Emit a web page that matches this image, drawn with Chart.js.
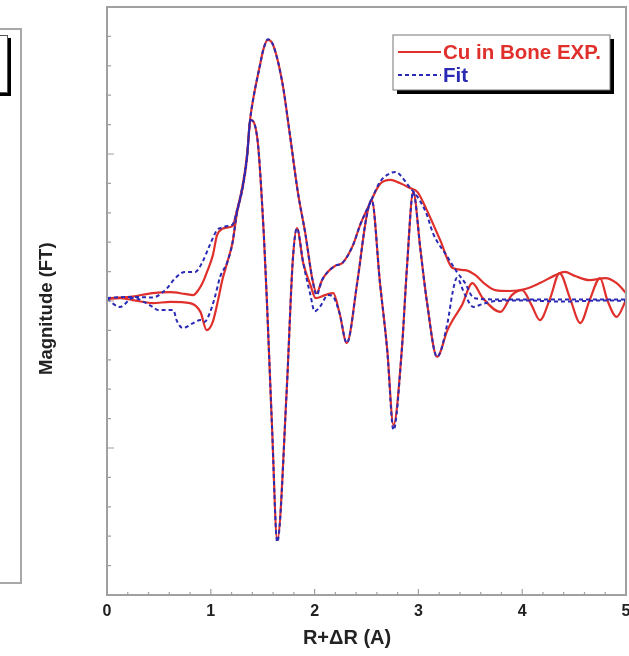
<!DOCTYPE html>
<html>
<head>
<meta charset="utf-8">
<script src="https://cdn.jsdelivr.net/npm/chart.js@4.4.1/dist/chart.umd.min.js"></script>
<style>
  html, body { margin: 0; padding: 0; background: #fff; overflow: hidden; }
  #wrap { position: relative; width: 660px; height: 656px; }
  /* edge of the neighbouring panel */
  #sideFrame { position: absolute; left: -12px; top: 28px; width: 30px; height: 552px; border: 2px solid #a8a8a8; }
  #sideLegend { position: absolute; left: -20px; top: 35px; width: 26px; height: 56px; border: 1px solid #555; box-shadow: 3px 3px 0 #000; background: #fff; }
  #box { position: absolute; left: 0; top: 0; width: 660px; height: 656px; }
</style>
</head>
<body>
<div id="wrap">
  <div id="sideFrame"></div>
  <div id="sideLegend"></div>
  <div id="box"><canvas id="chartFT"></canvas></div>
</div>
<script>
// Cu in bone, |FT| and Im part, experiment vs fit
const xTicks = [0, 1, 2, 3, 4, 5];
const legendLabels = ['Cu in Bone EXP.', 'Fit'];

const expMagX = [0, 0.22, 0.44, 0.61, 0.75, 0.83, 0.88, 0.92, 0.97, 1.02, 1.06, 1.11, 1.16, 1.21, 1.25, 1.31, 1.35, 1.38, 1.41, 1.47, 1.51, 1.55, 1.60, 1.69, 1.76, 1.84, 1.91, 1.98, 2.02, 2.07, 2.13, 2.20, 2.27, 2.37, 2.44, 2.53, 2.63, 2.73, 2.82, 2.92, 2.99, 3.08, 3.21, 3.33, 3.45, 3.55, 3.64, 3.74, 3.88, 4.03, 4.17, 4.32, 4.41, 4.51, 4.65, 4.80, 4.91, 5.0];
const expMagY = [0.10, 0.14, 0.27, 0.30, 0.24, 0.20, 0.37, 0.61, 1.05, 1.56, 2.24, 2.45, 2.50, 2.55, 3.05, 4.0, 5.0, 6.2, 6.9, 7.96, 8.6, 8.88, 8.71, 7.41, 5.71, 3.67, 2.31, 0.71, 0.27, 0.70, 1.00, 1.20, 1.30, 1.90, 2.60, 3.30, 3.98, 4.12, 4.01, 3.84, 3.71, 3.10, 2.07, 1.12, 1.05, 0.88, 0.58, 0.37, 0.34, 0.41, 0.61, 0.88, 0.99, 0.85, 0.71, 0.78, 0.61, 0.27];

const expImX = [0, 0.125, 0.25, 0.44, 0.61, 0.80, 0.90, 0.96, 1.02, 1.07, 1.11, 1.16, 1.21, 1.25, 1.31, 1.35, 1.38, 1.45, 1.51, 1.54, 1.59, 1.64, 1.73, 1.79, 1.83, 1.89, 1.96, 2.01, 2.10, 2.18, 2.24, 2.31, 2.41, 2.50, 2.55, 2.63, 2.70, 2.76, 2.84, 2.89, 2.95, 3.02, 3.08, 3.18, 3.28, 3.33, 3.42, 3.52, 3.62, 3.79, 3.90, 4.00, 4.09, 4.17, 4.27, 4.36, 4.46, 4.56, 4.65, 4.75, 4.82, 4.91, 5.0];
const expImY = [0.07, 0.10, 0.03, -0.07, -0.03, -0.07, -0.37, -0.99, -0.70, 0.03, 0.70, 1.33, 2.00, 2.95, 3.9, 4.9, 6.16, 5.48, 2.31, 0.03, -4.3, -8.13, -3.13, 1.39, 2.48, 1.30, 0.54, 0.10, 0.20, 0.27, -0.41, -1.43, 0.61, 2.86, 3.44, 0.61, -1.67, -4.22, -1.67, 1.16, 3.71, 1.73, 0.03, -1.90, -0.99, -0.65, -0.14, 0.61, 0.10, -0.37, 0.20, 0.37, -0.14, -0.65, 0.10, 0.95, 0.10, -0.75, 0.03, 0.78, 0.03, -0.54, 0.03];

const fitMagX = [0, 0.22, 0.44, 0.56, 0.67, 0.75, 0.85, 0.92, 0.99, 1.06, 1.11, 1.16, 1.21, 1.25, 1.31, 1.35, 1.38, 1.41, 1.47, 1.51, 1.55, 1.60, 1.69, 1.76, 1.84, 1.91, 1.98, 2.02, 2.07, 2.13, 2.20, 2.27, 2.37, 2.44, 2.53, 2.63, 2.73, 2.78, 2.82, 2.92, 2.99, 3.08, 3.14, 3.28, 3.37, 3.45, 3.52, 3.60, 3.80, 4.20, 4.60, 5.0];
const fitMagY = [0.10, 0.14, 0.12, 0.37, 0.82, 0.99, 0.99, 1.33, 1.90, 2.41, 2.50, 2.55, 2.60, 3.05, 4.0, 5.0, 6.2, 6.9, 7.96, 8.6, 8.9, 8.71, 7.41, 5.71, 3.67, 2.31, 0.71, 0.20, 0.70, 1.00, 1.20, 1.30, 1.90, 2.60, 3.30, 4.05, 4.35, 4.39, 4.30, 3.85, 3.55, 2.95, 2.31, 1.50, 0.99, 0.61, 0.15, 0.07, 0.05, 0.05, 0.05, 0.05];

const fitImX = [0, 0.125, 0.25, 0.44, 0.49, 0.64, 0.67, 0.73, 0.83, 0.90, 0.94, 0.99, 1.04, 1.09, 1.16, 1.21, 1.25, 1.31, 1.35, 1.38, 1.45, 1.51, 1.54, 1.59, 1.64, 1.73, 1.79, 1.83, 1.89, 1.96, 2.00, 2.05, 2.13, 2.18, 2.24, 2.31, 2.41, 2.50, 2.55, 2.63, 2.70, 2.76, 2.84, 2.89, 2.95, 3.02, 3.08, 3.18, 3.28, 3.33, 3.37, 3.45, 3.53, 3.62, 3.75, 4.00, 4.40, 4.80, 5.0];
const fitImY = [0.07, -0.20, 0.10, -0.20, -0.31, -0.31, -0.65, -0.92, -0.75, -0.65, -0.71, -0.41, 0.14, 0.82, 1.33, 2.00, 2.95, 3.9, 4.9, 6.16, 5.48, 2.31, 0.03, -4.3, -8.2, -3.13, 1.39, 2.48, 1.30, 0.20, -0.35, -0.20, 0.20, 0.14, -0.41, -1.43, 0.61, 2.86, 3.44, 0.61, -1.70, -4.39, -1.67, 1.16, 3.71, 1.73, 0.03, -1.90, -0.75, 0.30, 0.78, 0.20, -0.20, -0.10, 0.0, 0.02, -0.02, 0.02, 0.0];

const RED = '#e0302c';
const BLUE = '#2a2ab4';
const FONT = "'Liberation Sans', Arial, sans-serif";

const pts = (xs, ys) => xs.map((x, i) => ({ x, y: ys[i] }));

// frame, inward ticks and the boxed legend
const framePlugin = {
    id: 'frame',
    afterDraw(chart) {
        const { ctx, chartArea: a, scales } = chart;
        const xs = scales.x, ys = scales.y;
        ctx.save();
        ctx.strokeStyle = '#a0a0a0';
        ctx.lineWidth = 2;
        ctx.strokeRect(a.left, a.top, a.right - a.left, a.bottom - a.top);

        ctx.lineWidth = 1.2;
        ctx.beginPath();
        for (let i = 0; i <= 25; i++) {
            const v = i * 0.2;
            const px = xs.getPixelForValue(v);
            const len = i % 5 === 0 ? 6 : 3;
            ctx.moveTo(px, a.bottom);
            ctx.lineTo(px, a.bottom - len);
        }
        for (let v = -10; v <= 10; v++) {
            const py = ys.getPixelForValue(v);
            const len = v % 5 === 0 ? 7 : 4;
            ctx.moveTo(a.left, py);
            ctx.lineTo(a.left + len, py);
        }
        ctx.stroke();

        // legend box with drop shadow
        const bx = 393, by = 35, bw = 217, bh = 55;
        ctx.fillStyle = '#000';
        ctx.fillRect(bx + 4, by + 4, bw, bh);
        ctx.fillStyle = '#fff';
        ctx.fillRect(bx, by, bw, bh);
        ctx.strokeStyle = '#777';
        ctx.lineWidth = 1;
        ctx.strokeRect(bx, by, bw, bh);

        const entries = chart.data.datasets.filter(d => d.legend);
        entries.forEach((d, i) => {
            const y = by + 17 + i * 23;
            ctx.strokeStyle = d.borderColor;
            ctx.lineWidth = 2;
            ctx.setLineDash(d.borderDash || []);
            ctx.beginPath();
            ctx.moveTo(bx + 5, y);
            ctx.lineTo(bx + 48, y);
            ctx.stroke();
            ctx.setLineDash([]);
            ctx.fillStyle = d.borderColor;
            ctx.font = 'bold 20.5px ' + FONT;
            ctx.textBaseline = 'middle';
            ctx.fillText(d.label, bx + 50, y + 1);
        });
        ctx.restore();
    }
};

const lineStyle = { pointRadius: 0, fill: false, cubicInterpolationMode: 'monotone' };

new Chart(document.getElementById('chartFT'), {
    type: 'line',
    data: {
        datasets: [
            { label: legendLabels[0], legend: true, data: pts(expMagX, expMagY), borderColor: RED, borderWidth: 2.2, order: 2, ...lineStyle },
            { label: legendLabels[1], legend: true, data: pts(fitMagX, fitMagY), borderColor: BLUE, borderWidth: 2, borderDash: [4, 3], order: 1, ...lineStyle },
            { label: 'EXP Im', data: pts(expImX, expImY), borderColor: RED, borderWidth: 2.2, order: 2, ...lineStyle },
            { label: 'Fit Im', data: pts(fitImX, fitImY), borderColor: BLUE, borderWidth: 2, borderDash: [4, 3], order: 1, ...lineStyle }
        ]
    },
    options: {
        responsive: true, maintainAspectRatio: false, animation: false,
        layout: { padding: { top: 7, left: 0, right: 34, bottom: 0 } },
        plugins: { legend: { display: false }, tooltip: { enabled: false } },
        scales: {
            x: {
                type: 'linear', min: 0, max: 5,
                afterFit: s => { s.height = 61; },
                afterBuildTicks: s => { s.ticks = xTicks.map(v => ({ value: v })); },
                grid: { display: false, drawTicks: false },
                border: { display: false },
                ticks: { padding: 7, color: '#222', font: { family: FONT, size: 16, weight: 'bold' } },
                // trailing spaces keep the title a little left of the axis centre
                title: { display: true, text: 'R+ΔR (A)       ', color: '#222', padding: { top: 0, bottom: 6 }, font: { family: FONT, size: 20, weight: 'bold' } }
            },
            y: {
                min: -10, max: 10,
                afterFit: s => { s.width = 107; },
                grid: { display: false, drawTicks: false },
                border: { display: false },
                ticks: { display: false },
                title: { display: true, text: 'Magnitude (FT)   ', color: '#222', padding: { top: 36, bottom: 0 }, font: { family: FONT, size: 18.5, weight: 'bold' } }
            }
        }
    },
    plugins: [framePlugin]
});
</script>
</body>
</html>
